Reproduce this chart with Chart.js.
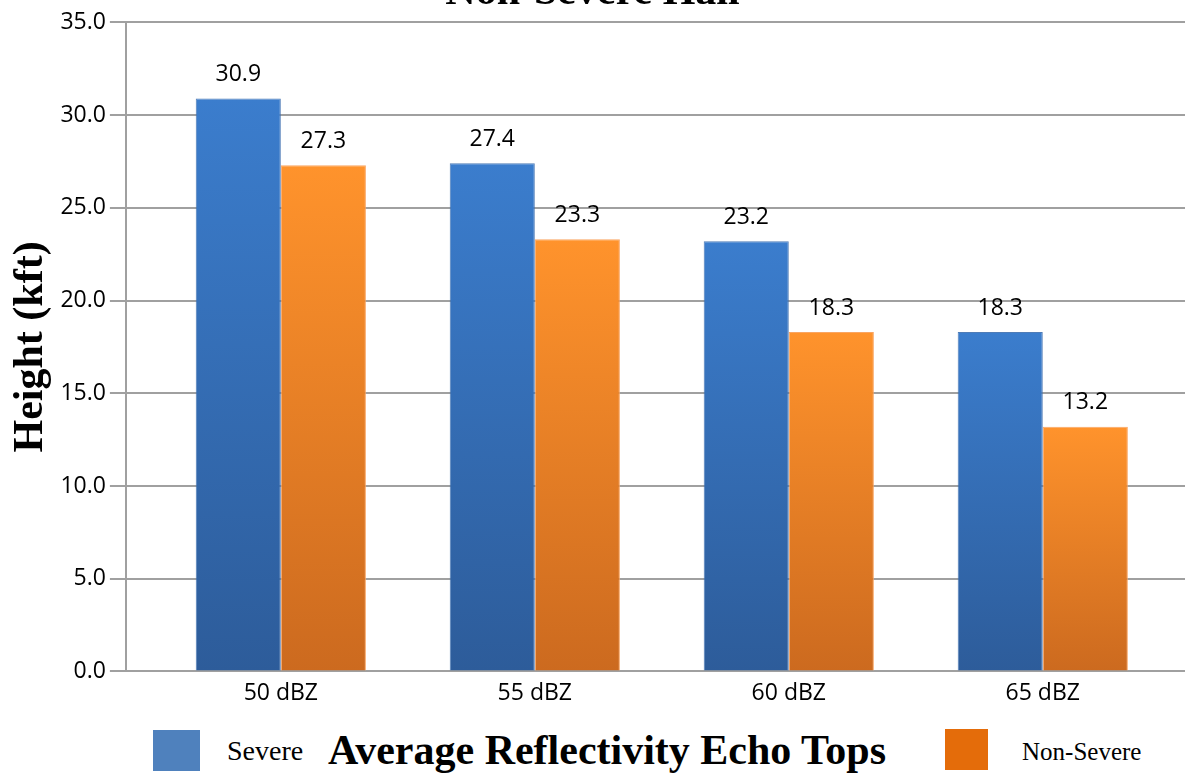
<!DOCTYPE html>
<html>
<head>
<meta charset="utf-8">
<script src="https://cdn.jsdelivr.net/npm/chart.js@4.4.0/dist/chart.umd.min.js"></script>
<style>
  html, body { margin: 0; padding: 0; background: #fff; overflow: hidden; }
  #wrap { position: relative; width: 1185px; height: 773px; overflow: hidden; }
  #box { position: absolute; left: 0; top: -40px; width: 1185px; height: 760px; }
  .key { position: absolute; top: 730px; height: 41px; }
  .txt { position: absolute; font-family: "Liberation Serif", "Times New Roman", serif; color: #000; white-space: nowrap; line-height: 1; }
</style>
</head>
<body>
<div id="wrap">
  <div id="box"><canvas id="myChart"></canvas></div>
  <div class="key" id="key0" style="left:153px;width:47px;"></div>
  <div class="txt" id="lab0" style="left:227px;top:737px;font-size:28px;"></div>
  <div class="txt" style="left:328px;top:729px;font-size:42px;font-weight:bold;">Average Reflectivity Echo Tops</div>
  <div class="key" id="key1" style="left:945px;width:43px;top:729px;"></div>
  <div class="txt" id="lab1" style="left:1022px;top:739px;font-size:25px;"></div>
</div>
<script>
// categories along the x-axis
var categories = ["50 dBZ", "55 dBZ", "60 dBZ", "65 dBZ"];
// average echo top heights (kft)
var severe = [30.9, 27.4, 23.2, 18.3];
var nonSevere = [27.3, 23.3, 18.3, 13.2];
var seriesNames = ["Severe", "Non-Severe"];
var legendColors = ["#4f81bd", "#e46c0a"];

// vertical gradient per bar, light at the top, darker at the base
function barFill(topColor, bottomColor) {
  return function (c) {
    var chart = c.chart;
    if (!chart.chartArea || c.type !== 'data') return topColor;
    var y = chart.scales.y;
    var g = chart.ctx.createLinearGradient(0, y.getPixelForValue(c.raw.y), 0, y.getPixelForValue(0));
    g.addColorStop(0, topColor);
    g.addColorStop(1, bottomColor);
    return g;
  };
}

function points(values) {
  return values.map(function (v, i) { return { x: i, y: v }; });
}

// value labels over the bars
var valueLabels = {
  id: 'valueLabels',
  afterDatasetsDraw: function (chart) {
    var ctx = chart.ctx;
    ctx.save();
    ctx.font = '23px "Open Sans"';
    ctx.fillStyle = '#000';
    ctx.textAlign = 'center';
    ctx.textBaseline = 'middle';
    chart.data.datasets.forEach(function (ds, i) {
      chart.getDatasetMeta(i).data.forEach(function (bar, j) {
        ctx.fillText(ds.data[j].y.toFixed(1), bar.x, bar.y - 24);
      });
    });
    ctx.restore();
  }
};

var ctx = document.getElementById("myChart");
var myChart = new Chart(ctx, {
  type: 'bar',
  data: {
    datasets: [
      {
        label: seriesNames[0],
        data: points(severe),
        backgroundColor: barFill("#3b7dcd", "#2d5c9a"),
        borderColor: "rgba(60,110,175,0.9)",
        borderWidth: 1,
        categoryPercentage: 0.67,
        barPercentage: 1.0
      },
      {
        label: seriesNames[1],
        data: points(nonSevere),
        backgroundColor: barFill("#ff932c", "#cc6a1f"),
        borderColor: "rgba(250,160,90,0.95)",
        borderWidth: 1,
        categoryPercentage: 0.67,
        barPercentage: 1.0
      }
    ]
  },
  options: {
    responsive: true,
    maintainAspectRatio: false,
    animation: false,
    layout: { padding: { left: 0, right: 0, top: 0, bottom: 5 } },
    plugins: {
      legend: { display: false },
      tooltip: { enabled: false },
      title: {
        display: true,
        text: "Non-Severe Hail",
        color: '#000',
        font: { family: '"Liberation Serif", serif', size: 42, weight: 'bold' },
        padding: { top: 8, bottom: 4 }
      }
    },
    scales: {
      x: {
        type: 'linear',
        offset: false,
        min: -0.61,
        max: 3.56,
        grid: { display: false, drawTicks: false },
        border: { display: true, color: '#a0a0a0', width: 2 },
        afterBuildTicks: function (scale) {
          scale.ticks = scale.ticks.filter(function (t) { return Number.isInteger(t.value); });
        },
        ticks: {
          stepSize: 1,
          padding: 8,
          color: '#000',
          font: { family: '"Open Sans"', size: 23 },
          callback: function (v) { return categories[v]; }
        }
      },
      y: {
        min: 0,
        max: 35,
        grid: { color: '#a0a0a0', lineWidth: 2, tickLength: 16 },
        border: { display: true, color: '#a0a0a0', width: 2 },
        ticks: {
          stepSize: 5,
          padding: 4,
          color: '#000',
          font: { family: '"Open Sans"', size: 23 },
          callback: function (v) { return v.toFixed(1); }
        },
        title: {
          display: true,
          text: "Height (kft)",
          color: '#000',
          font: { family: '"Liberation Serif", serif', size: 42, weight: 'bold' },
          padding: { top: 6, bottom: 0 }
        }
      }
    }
  },
  plugins: [valueLabels]
});

// legend row built from the chart's datasets
myChart.data.datasets.forEach(function (ds, i) {
  document.getElementById("key" + i).style.background = legendColors[i];
  document.getElementById("lab" + i).textContent = ds.label;
});
</script>
</body>
</html>
